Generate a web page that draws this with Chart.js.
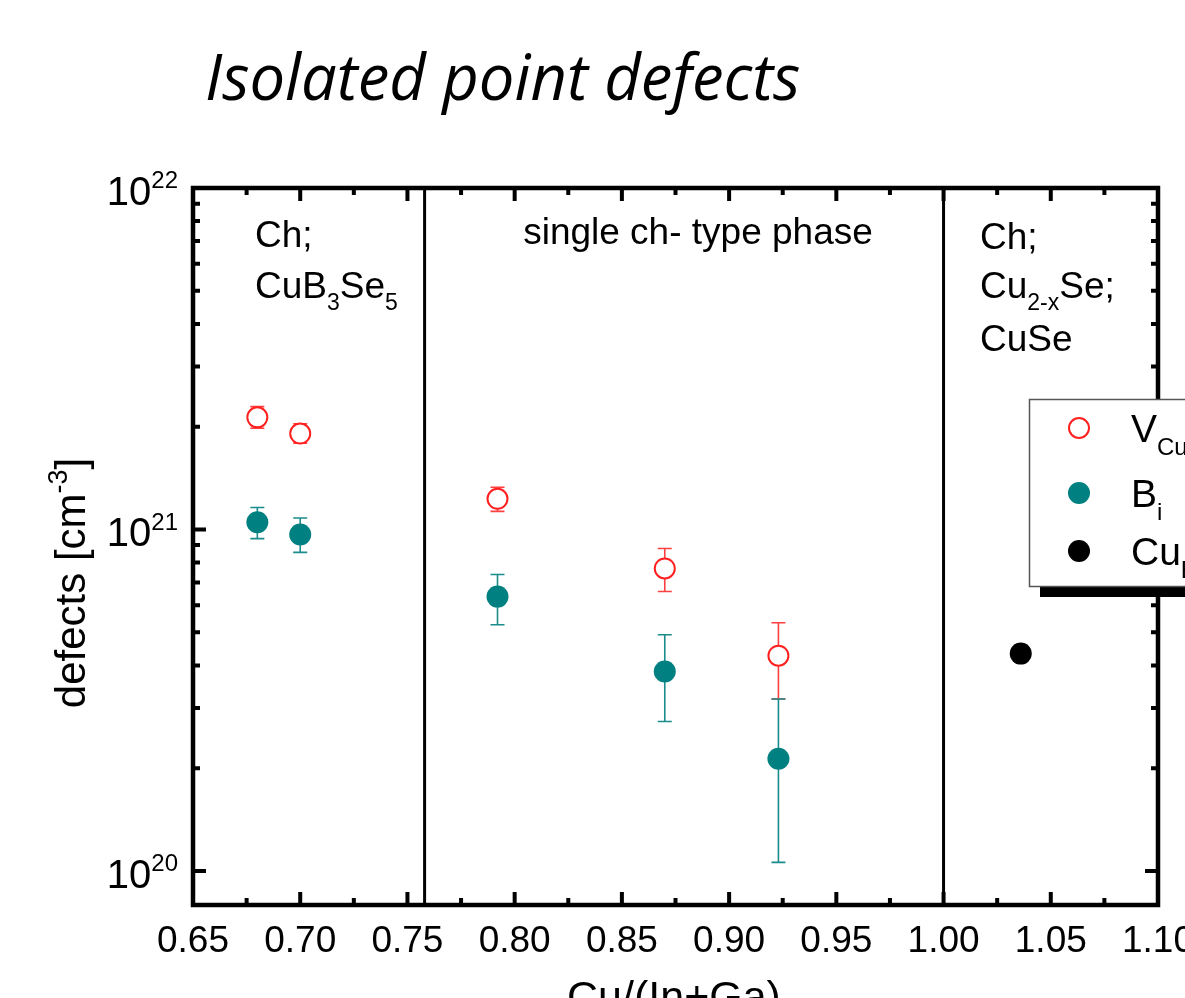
<!DOCTYPE html>
<html>
<head>
<meta charset="utf-8">
<script src="https://cdn.jsdelivr.net/npm/chart.js@4.4.1/dist/chart.umd.min.js"></script>
<style>
  html, body { margin: 0; padding: 0; background: #fff; }
  canvas { display: block; }
</style>
</head>
<body>
<canvas id="defectsChart" width="1185" height="998"></canvas>
<script>
// data
const vcuX = [0.68, 0.70, 0.792, 0.870, 0.923];
const vcuY = [2.13e21, 1.91e21, 1.23e21, 7.69e20, 4.27e20];
const vcuHi = [2.29e21, 2.04e21, 1.33e21, 8.80e20, 5.33e20];
const vcuLo = [1.98e21, 1.79e21, 1.13e21, 6.58e20, 3.19e20];

const biX = [0.68, 0.70, 0.792, 0.870, 0.923];
const biY = [1.05e21, 9.67e20, 6.36e20, 3.84e20, 2.13e20];
const biHi = [1.16e21, 1.08e21, 7.38e20, 4.92e20, 3.19e20];
const biLo = [9.4e20, 8.57e20, 5.26e20, 2.74e20, 1.06e20];

const cuBX = [1.036];
const cuBY = [4.33e20];

const xTickLabels = ["0.65", "0.70", "0.75", "0.80", "0.85", "0.90", "0.95", "1.00", "1.05", "1.10"];
const yDecades = [20, 21, 22];
const phaseBounds = [0.758, 1.0];

const RED = "#ff2020";
const TEAL = "#008080";
const FONT = "'Liberation Sans', Arial, sans-serif";

// text with sub/superscripts: parts = [[text, shift]] shift 0 normal, 1 sub, -1 sup
function richText(ctx, parts, x, y, size, subSize) {
  let cx = x;
  parts.forEach(([t, s]) => {
    const fs = s === 0 ? size : subSize;
    ctx.font = fs + "px " + FONT;
    const dy = s === 1 ? size * 0.33 : (s === -1 ? -size * 0.42 : 0);
    ctx.fillText(t, cx, y + dy);
    cx += ctx.measureText(t).width;
  });
  return cx - x;
}
function richWidth(ctx, parts, size, subSize) {
  let w = 0;
  parts.forEach(([t, s]) => {
    ctx.font = (s === 0 ? size : subSize) + "px " + FONT;
    w += ctx.measureText(t).width;
  });
  return w;
}

const errorBars = {
  id: "errorBars",
  beforeDatasetsDraw(chart) {
    const { ctx, scales: { x, y } } = chart;
    const sets = [[vcuX, vcuHi, vcuLo, "#ff4040"], [biX, biHi, biLo, "#1a8c8c"]];
    ctx.save();
    ctx.lineWidth = 1.6;
    sets.forEach(([xs, hi, lo, col]) => {
      ctx.strokeStyle = col;
      xs.forEach((v, i) => {
        const px = x.getPixelForValue(v);
        const top = y.getPixelForValue(hi[i]);
        const bot = y.getPixelForValue(lo[i]);
        ctx.beginPath();
        ctx.moveTo(px, top); ctx.lineTo(px, bot);
        ctx.moveTo(px - 7, top); ctx.lineTo(px + 7, top);
        ctx.moveTo(px - 7, bot); ctx.lineTo(px + 7, bot);
        ctx.stroke();
      });
    });
    ctx.restore();
  }
};

const frame = {
  id: "frame",
  beforeDatasetsDraw(chart) {
    const { ctx, chartArea: a, scales: { x, y } } = chart;
    ctx.save();
    ctx.strokeStyle = "#000";
    // phase boundaries
    ctx.lineWidth = 3;
    phaseBounds.forEach(v => {
      const px = x.getPixelForValue(v);
      ctx.beginPath(); ctx.moveTo(px, a.top); ctx.lineTo(px, a.bottom); ctx.stroke();
    });
    // x ticks, inward top and bottom
    ctx.lineWidth = 4;
    x.ticks.forEach(t => {
      const major = Math.abs(t.value * 20 - Math.round(t.value * 20)) < 1e-6;
      const len = major ? 13 : 7;
      const px = x.getPixelForValue(t.value);
      ctx.beginPath();
      ctx.moveTo(px, a.bottom); ctx.lineTo(px, a.bottom - len);
      ctx.moveTo(px, a.top); ctx.lineTo(px, a.top + len);
      ctx.stroke();
    });
    // y ticks, inward left and right
    y.ticks.forEach(t => {
      const lg = Math.log10(t.value);
      const major = Math.abs(lg - Math.round(lg)) < 1e-6;
      const len = major ? 13 : 7;
      const py = y.getPixelForValue(t.value);
      if (py > a.bottom + 0.5 || py < a.top - 0.5) return;
      ctx.beginPath();
      ctx.moveTo(a.left, py); ctx.lineTo(a.left + len, py);
      ctx.moveTo(a.right, py); ctx.lineTo(a.right - len, py);
      ctx.stroke();
    });
    ctx.lineWidth = 4.5;
    ctx.strokeRect(a.left, a.top, a.right - a.left, a.bottom - a.top);

    // tick labels
    ctx.fillStyle = "#000";
    ctx.textBaseline = "alphabetic";
    ctx.textAlign = "center";
    ctx.font = "37px " + FONT;
    xTickLabels.forEach(l => {
      ctx.fillText(l, x.getPixelForValue(parseFloat(l)), 952);
    });
    ctx.textAlign = "left";
    yDecades.forEach(d => {
      const py = y.getPixelForValue(Math.pow(10, d));
      const parts = [["10", 0], [String(d), -1]];
      const w = richWidth(ctx, parts, 40, 24);
      richText(ctx, parts, a.left - 15 - w, py + 17, 40, 24);
    });

    // axis titles
    ctx.textAlign = "left";
    const xt = [["Cu/(In+Ga)", 0]];
    const xw = richWidth(ctx, xt, 43, 26);
    richText(ctx, xt, 674 - xw / 2, 1011, 43, 26);

    ctx.save();
    ctx.translate(85, 583);
    ctx.rotate(-Math.PI / 2);
    const yt = [["defects [cm", 0], ["-3", -1], ["]", 0]];
    const yw = richWidth(ctx, yt, 42, 27);
    richText(ctx, yt, -yw / 2, 0, 42, 27);
    ctx.restore();

    // region annotations
    richText(ctx, [["Ch;", 0]], 255, 247, 37, 23);
    richText(ctx, [["CuB", 0], ["3", 1], ["Se", 0], ["5", 1]], 255, 298, 37, 23);
    ctx.textAlign = "center";
    ctx.font = "37px " + FONT;
    ctx.fillText("single ch- type phase", 698, 244);
    ctx.textAlign = "left";
    richText(ctx, [["Ch;", 0]], 980, 249, 37, 23);
    richText(ctx, [["Cu", 0], ["2-x", 1], ["Se;", 0]], 980, 298, 37, 23);
    richText(ctx, [["CuSe", 0]], 980, 351, 37, 23);

    // title
    ctx.font = "italic 56px 'Open Sans', sans-serif";
    const tw = ctx.measureText("Isolated point defects").width;
    const ts = 56 * 595 / tw;
    ctx.font = "italic " + ts.toFixed(1) + "px 'Open Sans', sans-serif";
    ctx.fillText("Isolated point defects", 205, 100);
    ctx.restore();
  }
};

const legendBox = {
  id: "legendBox",
  afterDraw(chart) {
    const { ctx } = chart;
    ctx.save();
    ctx.fillStyle = "#000";
    ctx.fillRect(1040, 410, 200, 187);
    ctx.fillStyle = "#fff";
    ctx.fillRect(1029, 399, 200, 188);
    ctx.strokeStyle = "#555";
    ctx.lineWidth = 1.5;
    ctx.strokeRect(1029.5, 399.5, 200, 187);
    const rows = [
      [428, [["V", 0], ["Cu", 1]], "open", RED],
      [493, [["B", 0], ["i", 1]], "fill", TEAL],
      [551, [["Cu", 0], ["B", 1]], "fill", "#000"]
    ];
    rows.forEach(([py, parts, kind, col]) => {
      ctx.beginPath();
      ctx.arc(1079, py, kind === "open" ? 10 : 11, 0, Math.PI * 2);
      if (kind === "open") {
        ctx.strokeStyle = col; ctx.lineWidth = 2; ctx.stroke();
      } else {
        ctx.fillStyle = col; ctx.fill();
      }
      ctx.fillStyle = "#000";
      ctx.textAlign = "left";
      richText(ctx, parts, 1131, py + 14, 39, 24);
    });
    ctx.restore();
  }
};

new Chart(document.getElementById("defectsChart"), {
  type: "scatter",
  data: {
    datasets: [
      {
        label: "V_Cu",
        data: vcuX.map((v, i) => ({ x: v, y: vcuY[i] })),
        pointStyle: "circle",
        pointRadius: 10,
        pointBackgroundColor: "#fff",
        pointBorderColor: RED,
        pointBorderWidth: 2
      },
      {
        label: "B_i",
        data: biX.map((v, i) => ({ x: v, y: biY[i] })),
        pointRadius: 11,
        pointBackgroundColor: TEAL,
        pointBorderColor: TEAL,
        pointBorderWidth: 0
      },
      {
        label: "Cu_B",
        data: cuBX.map((v, i) => ({ x: v, y: cuBY[i] })),
        pointRadius: 11,
        pointBackgroundColor: "#000",
        pointBorderColor: "#000",
        pointBorderWidth: 0
      }
    ]
  },
  options: {
    responsive: false,
    animation: false,
    devicePixelRatio: 1,
    layout: { padding: { left: 193, right: 27, top: 188, bottom: 93 } },
    plugins: { legend: { display: false }, tooltip: { enabled: false } },
    scales: {
      x: {
        type: "linear",
        display: false,
        min: 0.65,
        max: 1.10,
        ticks: { stepSize: 0.025 }
      },
      y: {
        type: "logarithmic",
        display: false,
        min: 7.95e19,
        max: 1e22,
        afterBuildTicks(scale) {
          const ticks = [];
          yDecades.forEach(d => {
            for (let m = 1; m <= 9; m++) ticks.push({ value: m * Math.pow(10, d) });
          });
          scale.ticks = ticks.filter(t => t.value >= scale.min * 0.999 && t.value <= scale.max * 1.001);
        }
      }
    }
  },
  plugins: [frame, errorBars, legendBox]
});
</script>
</body>
</html>
